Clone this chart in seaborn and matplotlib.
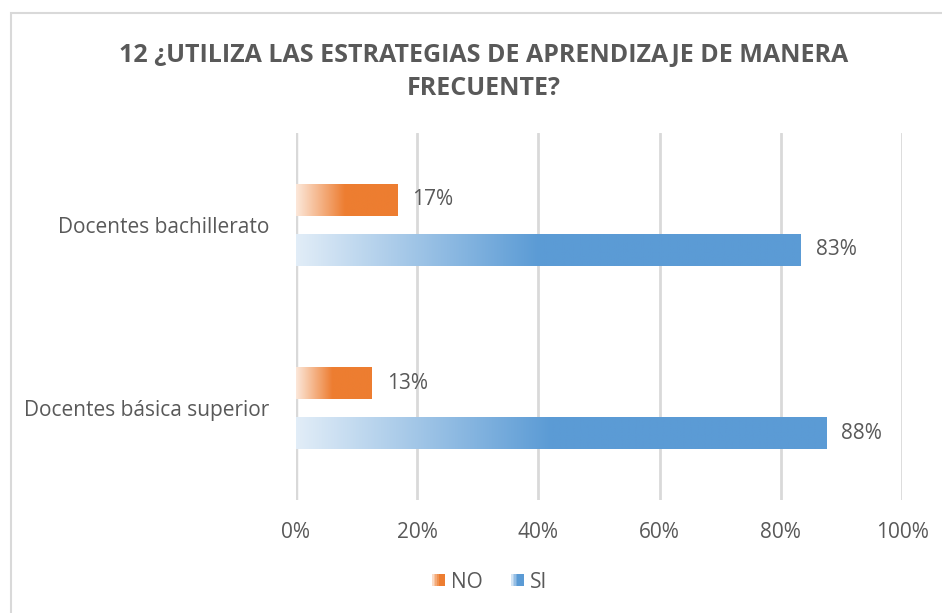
import numpy as np
import pandas as pd
import matplotlib
matplotlib.use("Agg")
import matplotlib.pyplot as plt
import matplotlib.colors as mcolors
from matplotlib.patches import Rectangle
from matplotlib.legend_handler import HandlerPatch
import seaborn as sns

# ---- data ----
categories = ["Docentes bachillerato", "Docentes básica superior"]
series = ["NO", "SI"]
no_values = [16.67, 12.5]
si_values = [83.33, 87.5]
x_ticks = [0, 20, 40, 60, 80, 100]
title = "12 ¿UTILIZA LAS ESTRATEGIAS DE APRENDIZAJE DE MANERA\nFRECUENTE?"

colors = {"NO": "#ED7D31", "SI": "#5B9BD5"}
text_color = "#595959"
grid_color = "#D9D9D9"

df = pd.DataFrame({
    "category": categories * 2,
    "series": ["NO"] * len(categories) + ["SI"] * len(categories),
    "value": no_values + si_values,
})

sns.set_theme(style="white")
plt.rcParams["font.family"] = ["Open Sans", "DejaVu Sans"]

fig = plt.figure(figsize=(9.42, 6.13), dpi=100)
W, H = 942, 613
ax = fig.add_axes([296 / W, (H - 500) / H, 606 / W, 367 / H])

sns.barplot(data=df, x="value", y="category", hue="series", hue_order=series,
            order=categories, palette=colors, orient="h", width=0.543, gap=0.36,
            legend=False, ax=ax, saturation=1)

ax.set_xlim(0, 100)
ax.set_ylim(1.5, -0.5)


def gradient_rgba(color, n=256, stop=0.48, light=0.18):
    base = np.array(mcolors.to_rgb(color))
    t = np.linspace(0, 1, n)
    f = np.clip(t / stop, 0, 1)
    mix = light + (1 - light) * f
    rgb = 1 - (1 - base)[None, :] * mix[:, None]
    rgba = np.ones((1, n, 4))
    rgba[0, :, :3] = rgb
    return rgba


LABEL_FS = 15

# overlay gradients and value labels
for p in list(ax.patches):
    x0, y0 = p.get_x(), p.get_y()
    w, h = p.get_width(), p.get_height()
    if w <= 0:
        continue
    fc = mcolors.to_hex(p.get_facecolor())
    key = "NO" if fc.lower() == colors["NO"].lower() else "SI"
    img = gradient_rgba(colors[key])
    ax.imshow(img, extent=[x0, x0 + w, y0 + h, y0], aspect="auto",
              interpolation="bilinear", zorder=3)
    p.set_alpha(0)
    ax.text(x0 + w + 2.5, y0 + h / 2, f"{int(w + 0.5)}%", va="center", ha="left",
            fontsize=LABEL_FS, color=text_color, zorder=4)

ax.set_xlim(0, 100)
ax.set_ylim(1.5, -0.5)

ax.set_xticks(x_ticks)
ax.set_xticklabels([f"{t}%" for t in x_ticks])
ax.xaxis.grid(True, color=grid_color, linewidth=2)
ax.yaxis.grid(False)
ax.set_axisbelow(True)
for s in ax.spines.values():
    s.set_visible(False)
ax.axvline(0, color=grid_color, linewidth=2.5, zorder=1)
ax.tick_params(axis="x", length=0, pad=16, labelsize=LABEL_FS, labelcolor=text_color)
ax.tick_params(axis="y", length=0, pad=19, labelsize=LABEL_FS, labelcolor=text_color)
ax.set_xlabel("")
ax.set_ylabel("")

fig.text(484 / W, 1 - 72 / H, title, ha="center", va="center", fontsize=18,
         fontweight="bold", color=text_color, linespacing=1.45)


class GradHandler(HandlerPatch):
    def create_artists(self, legend, orig_handle, xdescent, ydescent, width,
                       height, fontsize, trans):
        color = orig_handle.get_facecolor()
        size = height * 0.85
        x_start = width - size
        n = 8
        arts = []
        base = np.array(mcolors.to_rgb(color))
        for i in range(n):
            f = min(1.0, (i + 0.5) / n / 0.55)
            mix = 0.18 + 0.82 * f
            c = 1 - (1 - base) * mix
            r = Rectangle((x_start + i * size / n - xdescent, -ydescent + (height - size) / 2),
                          size / n + 0.3, size, facecolor=c, edgecolor="none",
                          transform=trans)
            arts.append(r)
        return arts


handles = [Rectangle((0, 0), 1, 1, facecolor=colors[s]) for s in series]
fig.legend(handles, series, loc="center", bbox_to_anchor=(487 / W, 1 - 582 / H),
           ncol=2, frameon=False, fontsize=LABEL_FS, labelcolor=text_color,
           handler_map={Rectangle: GradHandler()}, handlelength=0.85,
           handletextpad=0.3, columnspacing=1.1)

# chart border (top and left visible; right/bottom lie outside the image)
fig.add_artist(Rectangle((10.5 / W, -0.1), 2, 1.1 - 13.5 / H, transform=fig.transFigure,
                         fill=False, edgecolor="#D9D9D9", linewidth=1.5))

fig.savefig("out.png", dpi=100, facecolor="white")
